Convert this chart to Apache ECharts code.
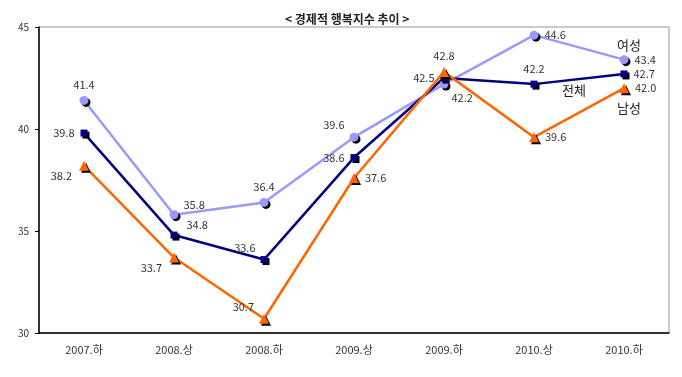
<!DOCTYPE html>
<html>
<head>
<meta charset="utf-8">
<script src="https://cdn.jsdelivr.net/npm/echarts@6/dist/echarts.min.js"></script>
<style>
html,body{margin:0;padding:0;background:#fff}
#main{width:682px;height:377px}
</style>
</head>
<body>
<div id="main"></div>
<script>
var categories=['2007.하','2008.상','2008.하','2009.상','2009.하','2010.상','2010.하']
var female=[41.4,35.8,36.4,39.6,42.2,44.6,43.4]
var total=[39.8,34.8,33.6,38.6,42.5,42.2,42.7]
var male=[38.2,33.7,30.7,37.6,42.8,39.6,42.0]

//라벨 위치
var femalePos=['top','insideBottomLeft','top','topLeft','bottomRight','right','right']
var totalPos=['left','topRight','topLeft','left','left','top','right']
var malePos=['bottomLeft','bottomLeft','topLeft','right','top','right','right']

var font='"Noto Sans CJK KR", sans-serif'

function buildData(vals,pos){
    var arr=[]
    for(var i=0;i<vals.length;i++){
        var p=pos[i],lb={position:p,distance:6}
        if(p=='topLeft'){lb={position:'left',offset:[0,-12]}}
        if(p=='topRight'){lb={position:'right',offset:[4,-10]}}
        if(p=='bottomLeft'){lb={position:'left',offset:[-2,10]}}
        if(p=='bottomRight'){lb={position:'right',offset:[-2,14]}}
        if(p=='insideBottomLeft'){lb={position:'right',offset:[0,-10]}}
        arr.push({value:vals[i],label:lb})
    }
    return arr
}

function mkSeries(name,vals,pos,color,symbol,size){
    return {
        name:name,
        type:'line',
        data:buildData(vals,pos),
        symbol:symbol,
        symbolSize:size,
        lineStyle:{color:color,width:2.5},
        itemStyle:{color:color,shadowColor:'#000',shadowOffsetX:2,shadowOffsetY:2,shadowBlur:0},
        label:{show:true,color:'#333',fontSize:11,fontFamily:font,formatter:function(p){return p.value.toFixed(1)}},
        emphasis:{disabled:true}
    }
}

var myChart=echarts.init(document.getElementById('main'))
var option={
    animation:false,
    title:{text:'< 경제적 행복지수 추이 >',left:280,top:8,textStyle:{fontSize:12,fontWeight:'bold',color:'#222',fontFamily:font}},
    grid:{left:39,right:13,top:27,bottom:44,show:true,borderColor:'#999',borderWidth:1},
    xAxis:{
        type:'category',
        data:categories,
        boundaryGap:true,
        axisLine:{lineStyle:{color:'#000',width:1.5}},
        axisTick:{inside:true,length:4,lineStyle:{color:'#000'}},
        axisLabel:{color:'#333',fontSize:11,fontFamily:font,margin:11}
    },
    yAxis:{
        type:'value',
        min:30,max:45,interval:5,
        axisLine:{show:true,lineStyle:{color:'#000',width:1.5}},
        axisTick:{show:true,length:4,lineStyle:{color:'#000'}},
        splitLine:{show:false},
        axisLabel:{color:'#333',fontSize:10,fontFamily:font,margin:10}
    },
    graphic:[
        {type:'text',left:617,top:39,style:{text:'여성',fill:'#222',font:'13px '+font}},
        {type:'text',left:562,top:84,style:{text:'전체',fill:'#222',font:'13px '+font}},
        {type:'text',left:617,top:102,style:{text:'남성',fill:'#222',font:'13px '+font}}
    ],
    series:[
        mkSeries('여성',female,femalePos,'#9999ff','circle',9),
        mkSeries('전체',total,totalPos,'#000080','rect',7),
        mkSeries('남성',male,malePos,'#ff6600','triangle',10)
    ]
}
myChart.setOption(option)
</script>
</body>
</html>
